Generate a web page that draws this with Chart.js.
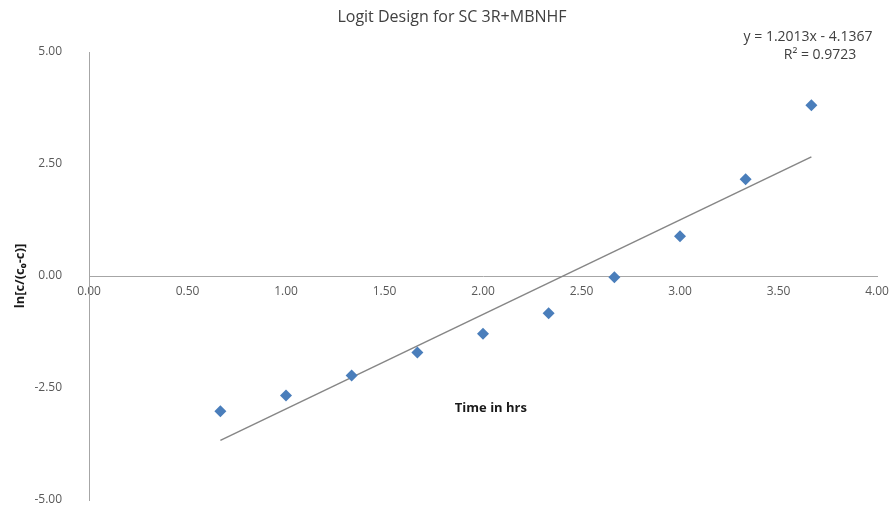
<!DOCTYPE html>
<html>
<head>
<meta charset="utf-8">
<script src="https://cdn.jsdelivr.net/npm/chart.js@4/dist/chart.umd.min.js"></script>
<style>
  html, body { margin: 0; padding: 0; background: #fff; }
  #wrap { width: 890px; height: 509px; }
</style>
</head>
<body>
<div id="wrap"><canvas id="logitChart"></canvas></div>
<script>
// 그래프 데이터
const timeHrs = [0.667, 1.0, 1.333, 1.667, 2.0, 2.333, 2.667, 3.0, 3.333, 3.667];
const logitValues = [-3.02, -2.67, -2.22, -1.71, -1.29, -0.83, -0.03, 0.89, 2.16, 3.81];
const trendX = [0.667, 3.667];
const trendY = [-3.67, 2.66];
const xTicks = [0, 0.5, 1, 1.5, 2, 2.5, 3, 3.5, 4];
const yTicks = [-5, -2.5, 0, 2.5, 5];

const chartTitle = 'Logit Design for SC 3R+MBNHF';
const xTitle = 'Time in hrs';
const yTitle = 'ln[c/(c\u2080-c)]';
const eqLines = ['y = 1.2013x - 4.1367', 'R\u00B2 = 0.9723'];

const FONT = "'Open Sans', sans-serif";

// 제목, 회귀식, x축 제목 직접 그리기
const textPlugin = {
    id: 'textPlugin',
    afterDraw(chart) {
        const { ctx, scales: { x, y } } = chart;
        ctx.save();
        ctx.textAlign = 'center';
        ctx.textBaseline = 'middle';
        ctx.fillStyle = '#404040';
        ctx.font = `16px ${FONT}`;
        ctx.fillText(chartTitle, 452, 17);
        ctx.font = `14px ${FONT}`;
        ctx.fillText(eqLines[0], 808, 37);
        ctx.fillText(eqLines[1], 820, 55);
        ctx.fillStyle = '#1a1a1a';
        ctx.font = `bold 13px ${FONT}`;
        ctx.fillText(xTitle, x.getPixelForValue(2.04), y.getPixelForValue(-2.96));
        ctx.restore();
    }
};

const ctx = document.getElementById('logitChart');
new Chart(ctx, {
    type: 'scatter',
    data: {
        datasets: [
            {
                label: 'data',
                data: timeHrs.map((t, i) => ({ x: t, y: logitValues[i] })),
                pointStyle: 'rectRot',
                pointRadius: 6,
                backgroundColor: '#4a7ebb',
                borderColor: '#4a7ebb',
                borderWidth: 0
            },
            {
                label: 'trend',
                type: 'line',
                data: trendX.map((t, i) => ({ x: t, y: trendY[i] })),
                borderColor: '#868686',
                borderWidth: 1.5,
                pointRadius: 0,
                fill: false
            }
        ]
    },
    options: {
        responsive: true,
        maintainAspectRatio: false,
        animation: false,
        layout: { padding: { top: 52, bottom: 9, right: 13, left: 0 } },
        plugins: {
            legend: { display: false },
            tooltip: { enabled: false }
        },
        scales: {
            x: {
                type: 'linear',
                position: { y: 0 },
                min: 0,
                max: 4,
                afterBuildTicks(scale) { scale.ticks = xTicks.map(v => ({ value: v })); },
                afterFit(scale) {
                    scale.height = 0;
                    scale.paddingLeft = 0;
                    scale.paddingRight = 0;
                },
                ticks: {
                    callback: v => Number(v).toFixed(2),
                    color: '#595959',
                    font: { family: FONT, size: 12 },
                    padding: 8,
                    maxRotation: 0,
                    autoSkip: false
                },
                grid: { drawOnChartArea: false, drawTicks: false },
                border: { color: '#a6a6a6', width: 1 }
            },
            y: {
                type: 'linear',
                position: 'left',
                min: -5,
                max: 5,
                afterBuildTicks(scale) { scale.ticks = yTicks.map(v => ({ value: v })); },
                afterFit(scale) {
                    scale.width = 89;
                    scale.paddingTop = 0;
                    scale.paddingBottom = 0;
                },
                ticks: {
                    callback: v => Number(v).toFixed(2),
                    color: '#595959',
                    font: { family: FONT, size: 12 },
                    padding: 27
                },
                title: {
                    display: true,
                    text: yTitle,
                    color: '#1a1a1a',
                    font: { family: FONT, size: 13, weight: 'bold' },
                    padding: { top: 12, bottom: 0 }
                },
                grid: { drawOnChartArea: false, drawTicks: false },
                border: { color: '#a6a6a6', width: 1 }
            }
        }
    },
    plugins: [textPlugin]
});
</script>
</body>
</html>
